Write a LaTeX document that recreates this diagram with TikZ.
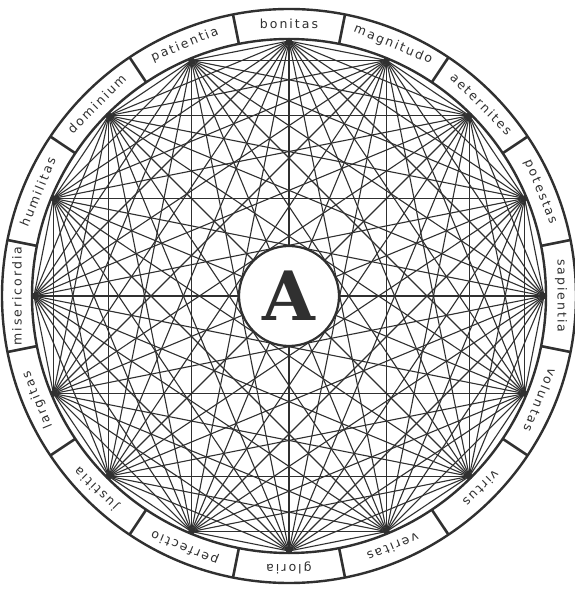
\documentclass[tikz,border=0pt]{standalone}
\usepackage{fontspec}
\newfontfamily\labfont[LetterSpace=16]{DejaVu Sans}
\newfontfamily\bigfont{DejaVu Serif}
\definecolor{ink}{HTML}{303030}
\begin{document}
\begin{tikzpicture}[x=1pt,y=1pt,
  chord/.style={draw=ink,line width=1.1pt},
  ring/.style={draw=ink,line width=2.4pt},
  divider/.style={draw=ink,line width=2.6pt},
  lab/.style={font=\labfont\fontsize{12.5}{12.5}\selectfont,text=ink,inner sep=0pt,anchor=center}]
\useasboundingbox (0,0) rectangle (575,592);
\fill[white] (0,0) rectangle (575,592);
\begin{scope}[shift={(289,296)}]
  % points
  \foreach \i in {0,...,15}{
    \pgfmathsetmacro\ang{90-22.5*\i}
    \coordinate (p\i) at (\ang:255);
  }
  % chords
  \foreach \i in {0,...,14}{
    \pgfmathtruncatemacro\ns{\i+1}
    \foreach \j in {\ns,...,15}{
      \draw[chord] (p\i) -- (p\j);
    }
  }
  \foreach \i in {0,...,15}{\fill[ink] (p\i) circle (3.2);}
  % rings
  \draw[ring] (0,0) circle (257);
  \draw[ring] (0,0) circle (287);
  \foreach \i in {0,...,15}{
    \pgfmathsetmacro\ang{90-22.5*\i+11.25}
    \draw[divider] (\ang:257) -- (\ang:287);
  }
  % labels
  \foreach \t [count=\k from 0] in {bonitas,magnitudo,aeternites,potestas,sapientia,voluntas,virtus,veritas,gloria,perfectio,justitia,largitas,misericordia,humilitas,dominium,patientia}{
    \pgfmathsetmacro\ang{90-22.5*\k}
    \node[lab,rotate=\ang-90] (l\k) at (\ang:272) {\t};
  }
  % center
  \node[circle,draw=ink,line width=2.2pt,fill=white,minimum size=100pt,inner sep=0pt,
        font=\bigfont\bfseries\fontsize{68}{68}\selectfont,text=ink] (A) at (0,0) {A};
\end{scope}
\end{tikzpicture}
\end{document}
